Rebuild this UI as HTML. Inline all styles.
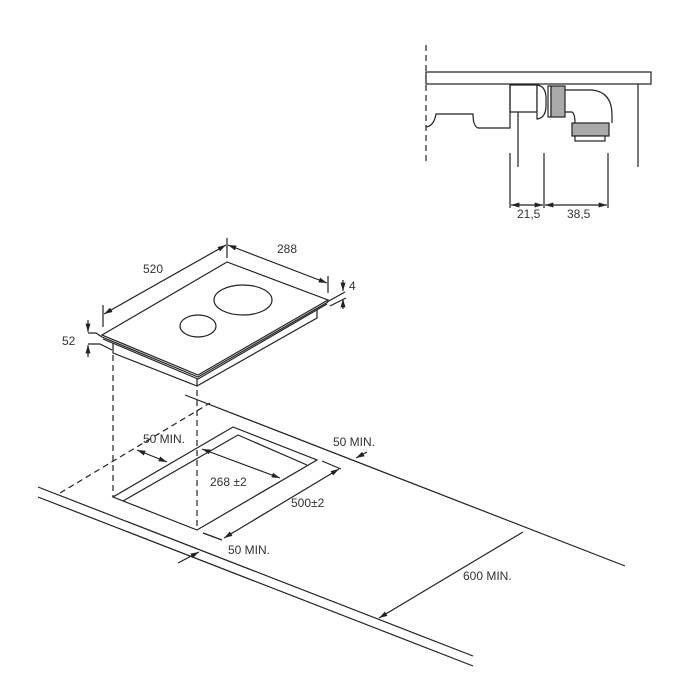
<!DOCTYPE html>
<html><head><meta charset="utf-8"><style>
html,body{margin:0;padding:0;background:#fff;}
svg{display:block;}
text{font-family:"Liberation Sans","DejaVu Sans",sans-serif;font-size:12px;fill:#333;}
</style></head><body>
<svg width="700" height="700" viewBox="0 0 700 700" xmlns="http://www.w3.org/2000/svg">
<defs>
<marker id="a" viewBox="0 0 10 10" refX="10" refY="5" markerWidth="7" markerHeight="7" orient="auto-start-reverse"><path d="M0,2 L10,5 L0,8 z" fill="#222"/></marker>
</defs>
<g stroke="#222" stroke-width="1.2" fill="none">
<!-- top right detail -->
<line x1="426" y1="45" x2="426" y2="165" stroke-dasharray="6,4"/>
<rect x="426" y="72" width="225" height="12" fill="#fff"/>
<line x1="638" y1="84" x2="638" y2="167"/>
<path d="M510,84 L510,128 L478,128 Q473,126 473,114 L436,114 Q434,126 426,127"/>
<rect x="510" y="85" width="27" height="27"/>
<line x1="518" y1="112" x2="518" y2="167"/>
<path d="M537,85 Q547,86 546,102 Q547,118 537,119 Z" fill="#fff"/>
<rect x="548" y="86" width="3" height="31" fill="#fff"/>
<rect x="551" y="86" width="14" height="31" fill="#aaa"/>
<path d="M565,90 L592,90 Q612,92 612,115 L612,123"/>
<path d="M565,112 L572,112 Q575,114 575,123"/>
<rect x="572" y="123" width="37" height="13" fill="#aaa"/>
<rect x="575" y="136" width="30" height="5" fill="#fff"/>
<line x1="510" y1="153" x2="510" y2="208"/>
<line x1="544" y1="153" x2="544" y2="208"/>
<line x1="608" y1="153" x2="608" y2="208"/>
<line x1="511" y1="205" x2="543" y2="205" marker-start="url(#a)" marker-end="url(#a)"/>
<line x1="545" y1="205" x2="607" y2="205" marker-start="url(#a)" marker-end="url(#a)"/>
<!-- hob -->
<path d="M102,335 L227,262 L328,300 L198,375 Z" fill="#fff"/>
<path d="M102,337 L198,377 L328,302"/>
<path d="M103,339 L198,379 L327,304"/>
<path d="M113,343 L113,353 L197,386 L317,318 L317,310"/>
<line x1="197" y1="379" x2="197" y2="386"/>
<ellipse cx="243" cy="300" rx="29" ry="15"/>
<ellipse cx="198" cy="326" rx="18" ry="11"/>
<line x1="103" y1="305" x2="103" y2="327"/>
<line x1="227" y1="238" x2="227" y2="258"/>
<line x1="328" y1="276" x2="328" y2="293"/>
<line x1="104" y1="314" x2="226" y2="245" marker-start="url(#a)" marker-end="url(#a)"/>
<line x1="228" y1="245" x2="327" y2="283" marker-start="url(#a)" marker-end="url(#a)"/>
<line x1="327" y1="302" x2="345" y2="292"/>
<line x1="330" y1="306" x2="346" y2="298"/>
<line x1="343" y1="280" x2="343" y2="291" marker-end="url(#a)"/>
<line x1="343" y1="309" x2="343" y2="299" marker-end="url(#a)"/>
<path d="M88,333 L96,333 L102,337"/>
<path d="M88,344 L100,344 L112,350"/>
<line x1="88" y1="320" x2="88" y2="332" marker-end="url(#a)"/>
<line x1="88" y1="357" x2="88" y2="345" marker-end="url(#a)"/>
<!-- worktop -->
<line x1="113" y1="355" x2="113" y2="497" stroke-dasharray="6,4"/>
<line x1="197" y1="390" x2="197" y2="530" stroke-dasharray="6,4"/>
<line x1="185" y1="395" x2="625" y2="566"/>
<line x1="38" y1="487" x2="473" y2="656"/>
<line x1="38" y1="497" x2="473" y2="666"/>
<line x1="60" y1="493" x2="210" y2="403" stroke-dasharray="6,4"/>
<path d="M113,497 L233,427 L317,460 L197,530 Z"/>
<path d="M123,501 L238,435 L307,465"/>
<line x1="137" y1="450" x2="167" y2="462" marker-start="url(#a)" marker-end="url(#a)"/>
<line x1="202" y1="449" x2="280" y2="478" marker-start="url(#a)" marker-end="url(#a)"/>
<line x1="203" y1="533" x2="222" y2="540"/>
<line x1="322" y1="461" x2="341" y2="469"/>
<line x1="224" y1="538" x2="339" y2="469" marker-start="url(#a)" marker-end="url(#a)"/>
<line x1="178" y1="563" x2="199" y2="552" marker-end="url(#a)"/>
<line x1="367" y1="452" x2="356" y2="458" marker-end="url(#a)"/>
<line x1="523" y1="532" x2="379" y2="618" marker-end="url(#a)"/>
</g>
<text x="517" y="218">21,5</text>
<text x="567" y="218">38,5</text>
<text x="143" y="273">520</text>
<text x="277" y="253">288</text>
<text x="349" y="290">4</text>
<text x="62" y="345">52</text>
<text x="143" y="443">50 MIN.</text>
<text x="333" y="446">50 MIN.</text>
<text x="210" y="486">268 ±2</text>
<text x="291" y="507">500±2</text>
<text x="228" y="554">50 MIN.</text>
<text x="463" y="580">600 MIN.</text>
</svg>
</body></html>
